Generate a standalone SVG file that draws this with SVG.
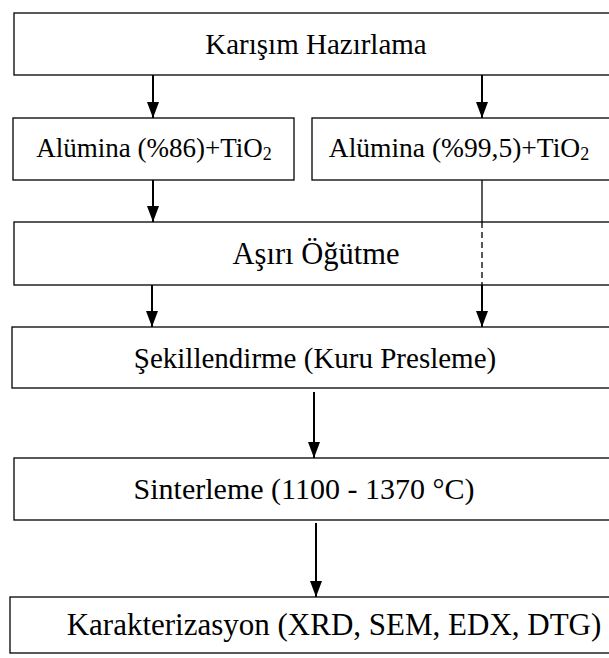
<svg xmlns="http://www.w3.org/2000/svg" width="609" height="658" viewBox="0 0 609 658">
<defs>
<marker id="ah" viewBox="0 0 16 12" refX="16" refY="6" markerWidth="16" markerHeight="12" markerUnits="userSpaceOnUse" orient="auto">
<path d="M0,0 L16,6 L0,12 Z" fill="#000"/>
</marker>
<style>
.box{fill:#fff;stroke:#000;stroke-width:1.3}
.t{font-family:"Liberation Serif","Times New Roman",serif;fill:#000;text-anchor:middle}
.l{stroke:#000;stroke-width:2;fill:none}
</style>
</defs>
<rect width="609" height="658" fill="#fff"/>
<g id="n1"><rect class="box" x="14" y="13" width="600" height="62"/><text class="t" x="316" y="54" font-size="29">Karışım Hazırlama</text></g>
<g id="n2"><rect class="box" x="13" y="118" width="281" height="62"/><text class="t" x="154" y="157" font-size="27">Alümina (%86)+TiO<tspan font-size="18" dy="3">2</tspan></text></g>
<g id="n3"><rect class="box" x="312" y="118" width="302" height="62"/><text class="t" x="459" y="157" font-size="27.5">Alümina (%99,5)+TiO<tspan font-size="18" dy="3">2</tspan></text></g>
<g id="n4"><rect class="box" x="14" y="222" width="600" height="63"/><text class="t" x="316" y="264" font-size="30.5">Aşırı Öğütme</text></g>
<g id="n5"><rect class="box" x="12" y="327" width="602" height="61"/><text class="t" x="315" y="368" font-size="29">Şekillendirme (Kuru Presleme)</text></g>
<g id="n6"><rect class="box" x="14" y="458" width="600" height="62"/><text class="t" x="304" y="499" font-size="30">Sinterleme (1100 - 1370 °C)</text></g>
<g id="n7"><rect class="box" x="10" y="597" width="604" height="56"/><text class="t" x="334" y="635" font-size="31">Karakterizasyon (XRD, SEM, EDX, DTG)</text></g>
<g id="connectors">
<line class="l" x1="153" y1="75" x2="153" y2="118" marker-end="url(#ah)"/>
<line class="l" x1="482" y1="75" x2="482" y2="118" marker-end="url(#ah)"/>
<line class="l" x1="153" y1="180" x2="153" y2="222" marker-end="url(#ah)"/>
<line class="l" x1="482" y1="180" x2="482" y2="222" style="stroke-width:1.3"/>
<line class="l" x1="482" y1="222" x2="482" y2="285" style="stroke-width:1.3" stroke-dasharray="6,4"/>
<line class="l" x1="482" y1="285" x2="482" y2="327" marker-end="url(#ah)"/>
<line class="l" x1="152" y1="285" x2="152" y2="327" marker-end="url(#ah)"/>
<line class="l" x1="314" y1="392" x2="314" y2="458" marker-end="url(#ah)"/>
<line class="l" x1="316" y1="523" x2="316" y2="597" marker-end="url(#ah)"/>
</g>
</svg>
